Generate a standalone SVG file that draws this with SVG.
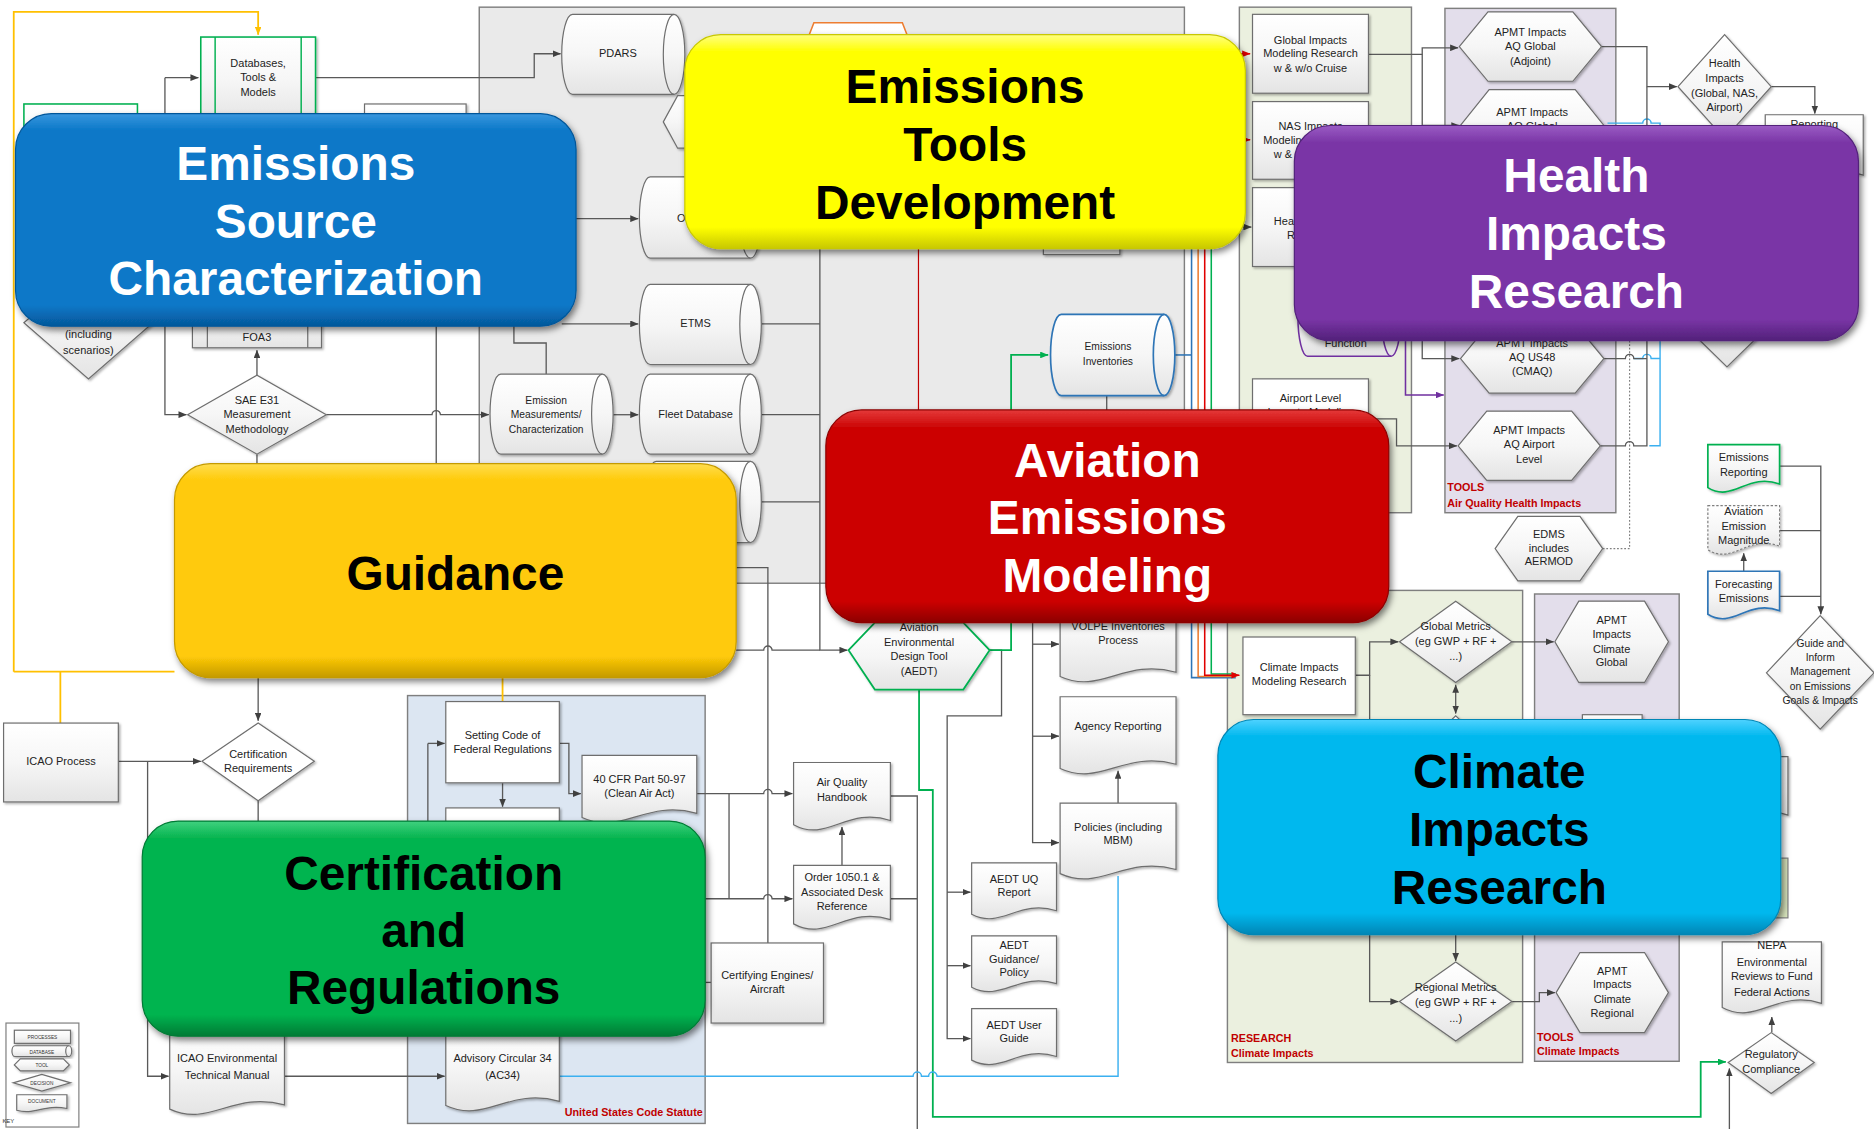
<svg xmlns="http://www.w3.org/2000/svg" width="1874" height="1129" viewBox="0 0 1874 1129">
<style>
.t{font-family:"Liberation Sans",Arial,sans-serif;font-size:9.2px;fill:#222;text-anchor:middle}
.ts{font-family:"Liberation Sans",Arial,sans-serif;font-size:8.6px;fill:#222;text-anchor:middle}
.k{font-family:"Liberation Sans",Arial,sans-serif;font-size:4px;fill:#333;text-anchor:middle}
.lab{font-family:"Liberation Sans",Arial,sans-serif;font-size:9px;fill:#C00000;font-weight:bold}
.big{font-family:"Liberation Sans",Arial,sans-serif;font-size:40px;font-weight:bold;text-anchor:middle}
.wt{fill:#fff}.bt{fill:#000}
.n{fill:url(#gs);stroke:#6E6E6E;stroke-width:1;filter:url(#sh)}
.nw{fill:#fff;stroke:#6E6E6E;stroke-width:1;filter:url(#sh)}
.ln{fill:none;stroke:#6E6E6E;stroke-width:1}
.c{fill:none;stroke:#595959;stroke-width:1.1}
.m{marker-end:url(#a)}
.or{fill:none;stroke:#FFC000;stroke-width:1.5}
.gl{fill:none;stroke:#00B050;stroke-width:1.5}
.lb{fill:none;stroke:#3BB0F0;stroke-width:1.2}
.ct{stroke:#7F7F7F;stroke-width:1.2}
</style>
<defs>
<linearGradient id="gs" x1="0" y1="0" x2="0" y2="1"><stop offset="0" stop-color="#FFFFFF"/><stop offset="0.5" stop-color="#F6F6F6"/><stop offset="1" stop-color="#E4E4E4"/></linearGradient>
<linearGradient id="gBlue" x1="0" y1="0" x2="0" y2="1"><stop offset="0" stop-color="#3A97DE"/><stop offset="0.08" stop-color="#0A78C8"/><stop offset="0.9" stop-color="#0A78C8"/><stop offset="1" stop-color="#05579A"/></linearGradient>
<linearGradient id="gYel" x1="0" y1="0" x2="0" y2="1"><stop offset="0" stop-color="#FFFF80"/><stop offset="0.08" stop-color="#FFFF00"/><stop offset="0.9" stop-color="#FFFF00"/><stop offset="1" stop-color="#C8C800"/></linearGradient>
<linearGradient id="gPur" x1="0" y1="0" x2="0" y2="1"><stop offset="0" stop-color="#9A5CC4"/><stop offset="0.08" stop-color="#7A35A6"/><stop offset="0.9" stop-color="#7A35A6"/><stop offset="1" stop-color="#52217A"/></linearGradient>
<linearGradient id="gRed" x1="0" y1="0" x2="0" y2="1"><stop offset="0" stop-color="#E53A3A"/><stop offset="0.08" stop-color="#CC0606"/><stop offset="0.9" stop-color="#CC0606"/><stop offset="1" stop-color="#8C0000"/></linearGradient>
<linearGradient id="gGold" x1="0" y1="0" x2="0" y2="1"><stop offset="0" stop-color="#FFDD4D"/><stop offset="0.08" stop-color="#FFCA08"/><stop offset="0.9" stop-color="#FFCA08"/><stop offset="1" stop-color="#C49A00"/></linearGradient>
<linearGradient id="gGrn" x1="0" y1="0" x2="0" y2="1"><stop offset="0" stop-color="#3FD17F"/><stop offset="0.08" stop-color="#05B44F"/><stop offset="0.9" stop-color="#05B44F"/><stop offset="1" stop-color="#007A35"/></linearGradient>
<linearGradient id="gCya" x1="0" y1="0" x2="0" y2="1"><stop offset="0" stop-color="#4FD2FF"/><stop offset="0.08" stop-color="#00B8EE"/><stop offset="0.9" stop-color="#00B8EE"/><stop offset="1" stop-color="#0086B5"/></linearGradient>
<filter id="sh" x="-10%" y="-10%" width="130%" height="130%"><feDropShadow dx="1.3" dy="1.3" stdDeviation="0.8" flood-color="#000" flood-opacity="0.3"/></filter>
<filter id="bs" x="-5%" y="-5%" width="115%" height="125%"><feDropShadow dx="2" dy="3" stdDeviation="2.5" flood-color="#000" flood-opacity="0.5"/></filter>
<marker id="a" viewBox="0 0 10 8" refX="9.5" refY="4" markerWidth="7" markerHeight="5.6" markerUnits="userSpaceOnUse" orient="auto"><path d="M0,0L10,4L0,8z" fill="#404040"/></marker>
<marker id="ad" viewBox="0 0 10 8" refX="9.5" refY="4" markerWidth="7" markerHeight="5.6" markerUnits="userSpaceOnUse" orient="auto-start-reverse"><path d="M0,0L10,4L0,8z" fill="#404040"/></marker>
<marker id="ar" viewBox="0 0 10 8" refX="9.5" refY="4" markerWidth="7" markerHeight="5.6" markerUnits="userSpaceOnUse" orient="auto"><path d="M0,0L10,4L0,8z" fill="#E00000"/></marker>
<marker id="ag" viewBox="0 0 10 8" refX="9.5" refY="4" markerWidth="7" markerHeight="5.6" markerUnits="userSpaceOnUse" orient="auto"><path d="M0,0L10,4L0,8z" fill="#00B050"/></marker>
<marker id="ap" viewBox="0 0 10 8" refX="9.5" refY="4" markerWidth="7" markerHeight="5.6" markerUnits="userSpaceOnUse" orient="auto"><path d="M0,0L10,4L0,8z" fill="#7030A0"/></marker>
<marker id="ao" viewBox="0 0 10 8" refX="9.5" refY="4" markerWidth="7" markerHeight="5.6" markerUnits="userSpaceOnUse" orient="auto"><path d="M0,0L10,4L0,8z" fill="#FFC000"/></marker>
</defs>
<rect x="0" y="0" width="1874" height="1129" fill="#fff"/>
<g transform="scale(1.19515)">

<g id="containers">
<rect x="401" y="6" width="590" height="482" fill="#EAEAEA" class="ct"/>
<rect x="1037" y="6" width="144" height="423" fill="#EBF0DF" class="ct"/>
<rect x="1209" y="7" width="143" height="422" fill="#E3DEEB" class="ct"/>
<text class="lab" x="1211" y="411">TOOLS</text>
<text class="lab" x="1211" y="424">Air Quality Health Impacts</text>
<rect x="1027" y="494" width="247" height="395" fill="#EBF0DF" class="ct"/>
<text class="lab" x="1030" y="872">RESEARCH</text>
<text class="lab" x="1030" y="884">Climate Impacts</text>
<rect x="1284" y="497" width="121" height="391" fill="#E3DEEB" class="ct"/>
<text class="lab" x="1286" y="871">TOOLS</text>
<text class="lab" x="1286" y="883">Climate Impacts</text>
<rect x="341" y="582" width="249" height="358" fill="#DCE6F2" class="ct"/>
<text class="lab" x="588" y="934" text-anchor="end">United States Code Statute</text>
</g>

<g id="connectors">
<path class="or" d="M11.5,562V10H216V29" marker-end="url(#ao)"/>
<path class="or" d="M11.5,562H146"/>
<path class="or" d="M50.5,562V605"/>
<path class="or" d="M420.5,567V587"/>
<path class="c m" d="M138,65H166"/>
<path class="c m" d="M138,65V347H156"/>
<path class="c m" d="M215,314V293"/>
<path class="c m" d="M273,347H361.5a3.5,3.5 0 0 1 7,0H409"/>
<path class="c" d="M365,273V388"/>
<path class="c" d="M215,380V388"/>
<path class="c m" d="M216,567V603"/>
<path class="c m" d="M264,65H447V45H469"/>
<path class="c m" d="M470,183H534"/>
<path class="c m" d="M470,271H534"/>
<path class="c" d="M430,265V287H457V313"/>
<path class="c m" d="M513,347H534"/>
<path class="c" d="M637,271H686M637,347H686M637,420H686"/>
<path class="c m" d="M686,205V544H709"/>
<path class="c" d="M616,544H639a3.5,3.5 0 0 1 7,0H686"/>
<path class="c" d="M616,475H642.5V789"/>
<path class="c m" d="M99,637H168"/>
<path class="c m" d="M123.5,637V900.5H141"/>
<path class="c" d="M216,670V688"/>
<path class="c m" d="M238,900.5H372"/>
<path class="c m" d="M358,622H372"/>
<path class="c" d="M358,622V690"/>
<path class="c m" d="M468,622H476V664H486"/>
<path class="c m" d="M420.5,655V675"/>
<path class="c m" d="M583,664H639a3.5,3.5 0 0 1 7,0H663"/>
<path class="c m" d="M590,752H639a3.5,3.5 0 0 1 7,0H663"/>
<path class="c" d="M610,664V752"/>
<path class="c m" d="M704.5,724V692"/>
<path class="c" d="M745,666H767.5V945M745,752H767.5"/>
<path class="c" d="M590,822H595"/>
<path class="c m" d="M828,544H838V599H792.5V869H812"/>
<path class="c m" d="M792.5,746.5H812"/>
<path class="c m" d="M792.5,808H812"/>
<path class="gl" d="M828,544H846V297H877" marker-end="url(#ag)"/>
<path class="gl" d="M769,577V661H780.5V934.5H1423V888.5H1444" marker-end="url(#ag)"/>
<path class="lb" d="M468,900.5H764a3.5,3.5 0 0 1 7,0H777a3.5,3.5 0 0 1 7,0H935.5V733"/>
<path class="c m" d="M864,515V705H886"/>
<path class="c m" d="M864,539H886"/>
<path class="c m" d="M864,616H886"/>
<path class="c m" d="M935.5,672V645"/>
<path class="c" d="M926,331V343"/>
<path d="M768.5,208V343" fill="none" stroke="#C00000" stroke-width="1"/>
<path d="M983,297H997" fill="none" stroke="#2E75B6" stroke-width="1.3"/>
<path d="M997,45V567H1034" fill="none" stroke="#2E75B6" stroke-width="1.3"/>
<path d="M1002.5,45V566H1034" fill="none" stroke="#ED7D31" stroke-width="1.3"/>
<path d="M1013.5,45V564H1034" fill="none" stroke="#00B050" stroke-width="1.3"/>
<path d="M1008,45V565H1037" fill="none" stroke="#E00000" stroke-width="1.3" marker-end="url(#ar)"/>
<path d="M997,45H1046" fill="none" stroke="#E00000" stroke-width="1.3" marker-end="url(#ar)"/>
<path d="M997,117H1046" fill="none" stroke="#E00000" stroke-width="1.3" marker-end="url(#ar)"/>
<path class="c m" d="M1015,190H1047"/>
<path class="c m" d="M1145,45.5H1190V40H1220"/>
<path class="c m" d="M1190,45.5V300H1221"/>
<path class="c m" d="M1190,105H1221"/>
<path d="M1176,284V330.5H1208" fill="none" stroke="#7030A0" stroke-width="1.3" marker-end="url(#ap)"/>
<path class="c m" d="M1145,350.5H1168.5V373H1219"/>
<path d="M1341,459H1363.5V284" fill="none" stroke="#808080" stroke-width="1" stroke-dasharray="1.5,1.5"/>
<path class="lb" d="M1345,103H1374.5a3.5,3.5 0 0 1 7,0H1389V373H1380"/>
<path class="lb" d="M1367,300H1374.5a3.5,3.5 0 0 1 7,0H1389"/>
<path class="c m" d="M1340,39H1378V72.5H1403"/>
<path class="c" d="M1342,300H1360a3.5,3.5 0 0 1 7,0H1378"/>
<path class="c" d="M1339,373H1360a3.5,3.5 0 0 1 7,0H1378V72.5"/>
<path class="c m" d="M1482,72.5H1518.5V95"/>
<path class="c m" d="M1489,390H1523.5V514"/>
<path class="c" d="M1489,444H1523.5M1489,499H1523.5"/>
<path class="c m" d="M1459,478V463"/>
<path class="c m" d="M1134,565H1146V537H1170"/>
<path class="c m" d="M1146,565V838H1170"/>
<path class="c m" d="M1265,537H1300"/>
<path class="c" d="M1218,573V597" marker-start="url(#ad)" marker-end="url(#ad)"/>
<path class="c m" d="M1218,782V804"/>
<path class="c m" d="M1265,838H1288V830.5H1301"/>
<path class="c m" d="M1482.5,864V851"/>
<path class="c m" d="M1447,945V894"/>
</g>

<g id="n-databases">
<rect x="168" y="31" width="96" height="72" fill="url(#gs)" stroke="#00B050" stroke-width="1.3" filter="url(#sh)"/>
<path d="M180,31V103M252,31V103" stroke="#00B050" stroke-width="1.2" fill="none"/>
<text class="t" x="216" y="56">Databases,</text><text class="t" x="216" y="68">Tools &amp;</text><text class="t" x="216" y="80">Models</text>
</g>
<g id="n-green-left"><rect x="20" y="87" width="95" height="80" fill="url(#gs)" stroke="#00B050" stroke-width="1.3"/></g>
<g id="n-hidden-rect"><rect class="n" x="305" y="87" width="85" height="80"/></g>
<g id="n-including">
<polygon class="n" points="20,270 74,223 128,270 74,317"/>
<text class="t" x="74" y="283">(including</text><text class="t" x="74" y="296">scenarios)</text>
</g>
<g id="n-foa3">
<rect class="n" x="161" y="250" width="108" height="41"/>
<path class="ln" d="M173.5,250V291M257.5,250V291"/>
<text class="t" x="215" y="285">FOA3</text>
</g>
<g id="n-sae">
<polygon class="n" points="157,347 215,314 273,347 215,380"/>
<text class="t" x="215" y="338">SAE E31</text><text class="t" x="215" y="350">Measurement</text><text class="t" x="215" y="362">Methodology</text>
</g>
<g id="n-pdars">
<path class="n" d="M479,12H564a9,33.5 0 0 1 0,67H479a9,33.5 0 0 1 0,-67Z"/>
<path class="ln" d="M564,12a9,33.5 0 0 0 0,67"/>
<text class="t" x="517" y="48">PDARS</text>
</g>
<g id="n-hex-hidden"><polygon class="n" points="555,102 567,80 660,80 672,102 660,124 567,124"/></g>
<g id="n-orange-hex"><polygon points="665,60 681,19 755,19 771,60 755,101 681,101" fill="url(#gs)" stroke="#ED7D31" stroke-width="1.3"/></g>
<g id="n-o">
<path class="n" d="M544,148H628a9,34 0 0 1 0,68H544a9,34 0 0 1 0,-68Z"/>
<path class="ln" d="M628,148a9,34 0 0 0 0,68"/>
<text class="t" x="570" y="186">O</text>
</g>
<g id="n-etms">
<path class="n" d="M544,238H628a9,33.5 0 0 1 0,67H544a9,33.5 0 0 1 0,-67Z"/>
<path class="ln" d="M628,238a9,33.5 0 0 0 0,67"/>
<text class="t" x="582" y="274">ETMS</text>
</g>
<g id="n-fleet">
<path class="n" d="M544,313H628a9,33.5 0 0 1 0,67H544a9,33.5 0 0 1 0,-67Z"/>
<path class="ln" d="M628,313a9,33.5 0 0 0 0,67"/>
<text class="t" x="582" y="350">Fleet Database</text>
</g>
<g id="n-cyl-hidden">
<path class="n" d="M549,386H628a9,34 0 0 1 0,68H549a9,34 0 0 1 0,-68Z"/>
<path class="ln" d="M628,386a9,34 0 0 0 0,68"/>
</g>
<g id="n-emission-meas">
<path class="n" d="M419,313H504a9,33.5 0 0 1 0,67H419a9,33.5 0 0 1 0,-67Z"/>
<path class="ln" d="M504,313a9,33.5 0 0 0 0,67"/>
<text class="ts" x="457" y="338">Emission</text><text class="ts" x="457" y="350">Measurements/</text><text class="ts" x="457" y="362">Characterization</text>
</g>
<g id="n-emissions-inv">
<path d="M888,263H974a9,34 0 0 1 0,68H888a9,34 0 0 1 0,-68Z" fill="url(#gs)" stroke="#2E75B6" stroke-width="1.4" filter="url(#sh)"/>
<path d="M974,263a9,34 0 0 0 0,68" fill="none" stroke="#2E75B6" stroke-width="1.4"/>
<text class="ts" x="927" y="293">Emissions</text><text class="ts" x="927" y="305">Inventories</text>
</g>
<g id="n-hidden-tool"><rect class="n" x="873" y="150" width="64" height="63"/></g>

<g id="n-global-impacts">
<rect class="n" x="1048" y="12" width="97" height="66"/>
<text class="t" x="1096.5" y="36.5">Global Impacts</text><text class="t" x="1096.5" y="48">Modeling Research</text><text class="t" x="1096.5" y="60">w &amp; w/o Cruise</text>
</g>
<g id="n-nas-impacts">
<rect class="n" x="1048" y="85" width="97" height="65"/>
<text class="t" x="1096.5" y="109">NAS Impacts</text><text class="t" x="1096.5" y="120.5">Modeling Research</text><text class="t" x="1096.5" y="132.5">w &amp; w/o Cruise</text>
</g>
<g id="n-health-research">
<rect class="n" x="1048" y="157" width="97" height="66"/>
<text class="t" x="1096.5" y="188">Health Impacts</text><text class="t" x="1096.5" y="200">Research</text>
</g>
<g id="n-function">
<path d="M1094,232H1164a8,33 0 0 1 0,66H1094a8,33 0 0 1 0,-66Z" fill="url(#gs)" stroke="#7030A0" stroke-width="1.3"/>
<path d="M1164,232a8,33 0 0 0 0,66" fill="none" stroke="#7030A0" stroke-width="1.3"/>
<text class="t" x="1126" y="290">Function</text>
</g>
<g id="n-airport-level">
<rect class="nw" x="1048" y="317" width="97" height="60"/>
<text class="t" x="1096.5" y="336">Airport Level</text><text class="t" x="1096.5" y="348">Impacts Modeling</text>
</g>
<g id="n-aq-adjoint">
<polygon class="n" points="1221,39 1245,10 1316,10 1340,39 1316,68 1245,68"/>
<text class="t" x="1280.5" y="30">APMT Impacts</text><text class="t" x="1280.5" y="41.5">AQ Global</text><text class="t" x="1280.5" y="54">(Adjoint)</text>
</g>
<g id="n-aq-global2">
<polygon class="n" points="1222,105 1246,75 1318,75 1342,105 1318,135 1246,135"/>
<text class="t" x="1282" y="97">APMT Impacts</text><text class="t" x="1282" y="109">AQ Global</text>
</g>
<g id="n-aq-us48">
<polygon class="n" points="1222,300 1246,271 1318,271 1342,300 1318,329 1246,329"/>
<text class="t" x="1282" y="290">APMT Impacts</text><text class="t" x="1282" y="302">AQ US48</text><text class="t" x="1282" y="314">(CMAQ)</text>
</g>
<g id="n-aq-airport">
<polygon class="n" points="1220,373 1244,344 1315,344 1339,373 1315,402 1244,402"/>
<text class="t" x="1279.5" y="363">APMT Impacts</text><text class="t" x="1279.5" y="375">AQ Airport</text><text class="t" x="1279.5" y="387">Level</text>
</g>
<g id="n-edms">
<polygon class="n" points="1251,459 1270,432 1322,432 1341,459 1322,486 1270,486"/>
<text class="t" x="1296" y="450">EDMS</text><text class="t" x="1296" y="461.5">includes</text><text class="t" x="1296" y="473">AERMOD</text>
</g>
<g id="n-health-diamond">
<polygon class="n" points="1404,72.5 1443,29 1482,72.5 1443,116"/>
<text class="t" x="1443" y="56">Health</text><text class="t" x="1443" y="69">Impacts</text><text class="t" x="1443" y="81">(Global, NAS,</text><text class="t" x="1443" y="93">Airport)</text>
</g>
<g id="n-reporting">
<path class="n" d="M1477,96h82v50.5c-36.9,-12 -53.3,19 -82,3.5z"/>
<text class="t" x="1518" y="107">Reporting</text>
</g>
<g id="n-diamond-hidden"><polygon class="n" points="1397,260 1445,213 1493,260 1445,307"/></g>
<g id="n-emissions-reporting">
<path d="M1429,372h60v33c-27,-10 -39,16 -60,3z" fill="url(#gs)" stroke="#00B050" stroke-width="1.4" filter="url(#sh)"/>
<text class="t" x="1459" y="386">Emissions</text><text class="t" x="1459" y="398">Reporting</text>
</g>
<g id="n-emission-magnitude">
<path d="M1429,423h60v34c-27,-10 -39,16 -60,3z" fill="url(#gs)" stroke="#7F7F7F" stroke-width="1" stroke-dasharray="2,1.5" filter="url(#sh)"/>
<text class="t" x="1459" y="431">Aviation</text><text class="t" x="1459" y="443.5">Emission</text><text class="t" x="1459" y="455">Magnitude</text>
</g>
<g id="n-forecasting">
<path d="M1429,478h60v33c-27,-10 -39,16 -60,3z" fill="url(#gs)" stroke="#2E75B6" stroke-width="1.4" filter="url(#sh)"/>
<text class="t" x="1459" y="492">Forecasting</text><text class="t" x="1459" y="504">Emissions</text>
</g>
<g id="n-guide">
<polygon class="n" points="1478,563 1523,515 1568,563 1523,610"/>
<text class="ts" x="1523" y="541">Guide and</text><text class="ts" x="1523" y="553">Inform</text><text class="ts" x="1523" y="565">Management</text><text class="ts" x="1523" y="577">on Emissions</text><text class="ts" x="1523" y="589">Goals &amp; Impacts</text>
</g>
<g id="n-right-hidden">
<path class="n" d="M1440,633h56v49c-25.2,-10 -36.4,16 -56,3z"/>
<rect x="1440" y="718" width="56" height="50" fill="#D7E4BC" stroke="#7F7F7F" stroke-width="1"/>
</g>
<g id="n-nepa">
<path class="n" d="M1441,788h83v51.5c-37.4,-12 -54,19 -83,3.5z"/>
<text class="t" x="1482.5" y="794">NEPA</text><text class="t" x="1482.5" y="808">Environmental</text><text class="t" x="1482.5" y="820">Reviews to Fund</text><text class="t" x="1482.5" y="833">Federal Actions</text>
</g>
<g id="n-regulatory">
<polygon class="n" points="1446,889 1482,864 1518,889 1482,915"/>
<text class="t" x="1482" y="885">Regulatory</text><text class="t" x="1482" y="898">Compliance</text>
</g>
<g id="n-climate-modeling">
<rect class="nw" x="1040" y="533" width="94" height="65"/>
<text class="t" x="1087" y="561.5">Climate Impacts</text><text class="t" x="1087" y="573.5">Modeling Research</text>
</g>
<g id="n-global-metrics">
<polygon class="n" points="1171,537 1218,503 1265,537 1218,571"/>
<text class="t" x="1218" y="527">Global Metrics</text><text class="t" x="1218" y="540">(eg GWP + RF +</text><text class="t" x="1218" y="552">...)</text>
</g>
<g id="n-climate-global">
<polygon class="n" points="1301,537 1321,503 1376,503 1396,537 1376,571 1321,571"/>
<text class="t" x="1348.5" y="522.5">APMT</text><text class="t" x="1348.5" y="534">Impacts</text><text class="t" x="1348.5" y="546">Climate</text><text class="t" x="1348.5" y="557.5">Global</text>
</g>
<g id="n-climate-hidden">
<polygon class="n" points="1175,640 1218,599 1261,640 1218,681"/>
<rect class="n" x="1324" y="598" width="50" height="60"/>
</g>
<g id="n-regional-metrics">
<polygon class="n" points="1171,838 1218,805 1265,838 1218,871"/>
<text class="t" x="1218" y="829">Regional Metrics</text><text class="t" x="1218" y="842">(eg GWP + RF +</text><text class="t" x="1218" y="855">...)</text>
</g>
<g id="n-climate-regional">
<polygon class="n" points="1302,830.5 1322,797 1376,797 1396,830.5 1376,864 1322,864"/>
<text class="t" x="1349" y="816">APMT</text><text class="t" x="1349" y="827">Impacts</text><text class="t" x="1349" y="839">Climate</text><text class="t" x="1349" y="851">Regional</text>
</g>

<g id="n-icao-process">
<rect class="n" x="3" y="605" width="96" height="66"/>
<text class="t" x="51" y="640">ICAO Process</text>
</g>
<g id="n-cert-req">
<polygon class="nw" points="169,637 216,605 263,637 216,670"/>
<text class="t" x="216" y="634">Certification</text><text class="t" x="216" y="646">Requirements</text>
</g>
<g id="n-icao-manual">
<path class="n" d="M142,855h96v69.5c-43.2,-12 -62.4,19 -96,3.5z"/>
<text class="t" x="190" y="889">ICAO Environmental</text><text class="t" x="190" y="903">Technical Manual</text>
</g>
<g id="n-setting-code">
<rect class="nw" x="373" y="587" width="95" height="68"/>
<text class="t" x="420.5" y="618">Setting Code of</text><text class="t" x="420.5" y="630">Federal Regulations</text>
</g>
<g id="n-hidden-reg"><rect class="nw" x="373" y="676" width="95" height="45"/></g>
<g id="n-40cfr">
<path class="n" d="M487,632h96v48.5c-43.2,-12 -62.4,19 -96,3.5z"/>
<text class="t" x="535" y="655.5">40 CFR Part 50-97</text><text class="t" x="535" y="667">(Clean Air Act)</text>
</g>
<g id="n-ac34">
<path class="n" d="M373,855h95v66.5c-42.8,-12 -61.8,19 -95,3.5z"/>
<text class="t" x="420.5" y="889">Advisory Circular 34</text><text class="t" x="420.5" y="903">(AC34)</text>
</g>
<g id="n-aq-handbook">
<path class="n" d="M664,638h81v48.5c-36.5,-12 -52.7,19 -81,3.5z"/>
<text class="t" x="704.5" y="658">Air Quality</text><text class="t" x="704.5" y="670">Handbook</text>
</g>
<g id="n-order">
<path class="n" d="M664,724h81v45.5c-36.5,-12 -52.7,19 -81,3.5z"/>
<text class="t" x="704.5" y="737.5">Order 1050.1 &amp;</text><text class="t" x="704.5" y="749.5">Associated Desk</text><text class="t" x="704.5" y="761">Reference</text>
</g>
<g id="n-certifying">
<rect class="n" x="595" y="789" width="94" height="67"/>
<text class="t" x="642" y="819">Certifying Engines/</text><text class="t" x="642" y="831">Aircraft</text>
</g>
<g id="n-aedt">
<polygon points="710,544 732,521 806,521 828,544 806,577 732,577" fill="url(#gs)" stroke="#00B050" stroke-width="1.5" filter="url(#sh)"/>
<text class="t" x="769" y="528">Aviation</text><text class="t" x="769" y="540.5">Environmental</text><text class="t" x="769" y="552">Design Tool</text><text class="t" x="769" y="564.5">(AEDT)</text>
</g>
<g id="n-volpe">
<path class="n" d="M887,495h97v67.5c-43.7,-12 -63,19 -97,3.5z"/>
<text class="t" x="935.5" y="527">VOLPE Inventories</text><text class="t" x="935.5" y="539">Process</text>
</g>
<g id="n-agency">
<path class="n" d="M887,583h97v56.5c-43.7,-12 -63,19 -97,3.5z"/>
<text class="t" x="935.5" y="611">Agency Reporting</text>
</g>
<g id="n-policies">
<path class="n" d="M887,672h97v55.5c-43.7,-12 -63,19 -97,3.5z"/>
<text class="t" x="935.5" y="695">Policies (including</text><text class="t" x="935.5" y="706">MBM)</text>
</g>
<g id="n-aedt-uq">
<path class="n" d="M813,722h71v40c-32,-10 -46.2,16 -71,3z"/>
<text class="t" x="848.5" y="738.5">AEDT UQ</text><text class="t" x="848.5" y="749.5">Report</text>
</g>
<g id="n-aedt-guidance">
<path class="n" d="M813,783h71v40c-32,-10 -46.2,16 -71,3z"/>
<text class="t" x="848.5" y="794">AEDT</text><text class="t" x="848.5" y="806">Guidance/</text><text class="t" x="848.5" y="817">Policy</text>
</g>
<g id="n-aedt-user">
<path class="n" d="M813,844h71v40c-32,-10 -46.2,16 -71,3z"/>
<text class="t" x="848.5" y="861">AEDT User</text><text class="t" x="848.5" y="872">Guide</text>
</g>
<g id="n-key">
<rect x="5" y="856" width="61" height="87" fill="#fff" stroke="#7F7F7F" stroke-width="1"/>
<rect class="n" x="12" y="862" width="47" height="11"/>
<text class="k" x="35.5" y="869">PROCESSES</text>
<path class="n" d="M12.5,875H57.5a2.5,4.5 0 0 1 0,9H12.5a2.5,4.5 0 0 1 0,-9Z"/>
<path class="ln" d="M57.5,875a2.5,4.5 0 0 0 0,9"/>
<text class="k" x="35" y="881.5">DATABASE</text>
<polygon class="n" points="12,891 17,886 53,886 58,891 53,896 17,896"/>
<text class="k" x="35" y="892.5">TOOL</text>
<polygon class="n" points="11,906 35,899 59,906 35,913"/>
<text class="k" x="35" y="907.5">DECISION</text>
<path class="n" d="M14,916h42v11.5c-19,-4 -27,6 -42,1.5z"/>
<text class="k" x="35" y="923">DOCUMENT</text>
<text class="k" x="7" y="940" text-anchor="start" style="font-size:5px">KEY</text>
</g>

<g id="box-emissions-source">
<rect x="13" y="95" width="469" height="178" rx="30" fill="url(#gBlue)" stroke="#05579A" stroke-width="1" filter="url(#bs)"/>
<text class="big wt" x="247.5" y="151">Emissions</text><text class="big wt" x="247.5" y="199.5">Source</text><text class="big wt" x="247.5" y="247">Characterization</text>
</g>
<g id="box-tools-dev">
<rect x="573" y="29" width="469" height="179" rx="30" fill="url(#gYel)" stroke="#C8C800" stroke-width="1" filter="url(#bs)"/>
<text class="big bt" x="807.5" y="86.5">Emissions</text><text class="big bt" x="807.5" y="135">Tools</text><text class="big bt" x="807.5" y="183.5">Development</text>
</g>
<g id="box-health">
<rect x="1083" y="105" width="472" height="180" rx="30" fill="url(#gPur)" stroke="#52217A" stroke-width="1" filter="url(#bs)"/>
<text class="big wt" x="1319" y="161">Health</text><text class="big wt" x="1319" y="209.5">Impacts</text><text class="big wt" x="1319" y="257.5">Research</text>
</g>
<g id="box-guidance">
<rect x="146" y="388" width="470" height="179" rx="30" fill="url(#gGold)" stroke="#C49A00" stroke-width="1" filter="url(#bs)"/>
<text class="big bt" x="381" y="494">Guidance</text>
</g>
<g id="box-aviation-modeling">
<rect x="691" y="343" width="471" height="178" rx="30" fill="url(#gRed)" stroke="#8C0000" stroke-width="1" filter="url(#bs)"/>
<text class="big wt" x="926.5" y="399">Aviation</text><text class="big wt" x="926.5" y="447">Emissions</text><text class="big wt" x="926.5" y="495">Modeling</text>
</g>
<g id="box-climate">
<rect x="1019" y="602" width="471" height="180" rx="30" fill="url(#gCya)" stroke="#0086B5" stroke-width="1" filter="url(#bs)"/>
<text class="big bt" x="1254.5" y="659.5">Climate</text><text class="big bt" x="1254.5" y="708">Impacts</text><text class="big bt" x="1254.5" y="756">Research</text>
</g>
<g id="box-certification">
<rect x="119" y="687" width="471" height="180" rx="30" fill="url(#gGrn)" stroke="#007A35" stroke-width="1" filter="url(#bs)"/>
<text class="big bt" x="354.5" y="744.5">Certification</text><text class="big bt" x="354.5" y="792">and</text><text class="big bt" x="354.5" y="840">Regulations</text>
</g>
</g>
</svg>
